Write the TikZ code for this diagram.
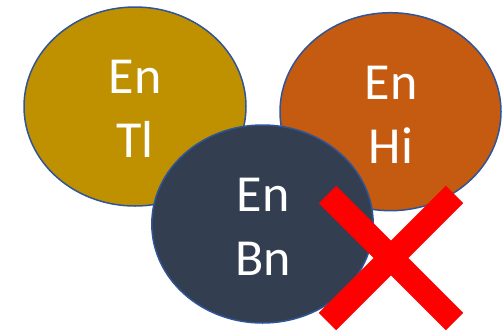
\documentclass[tikz,border=0pt]{standalone}
\usepackage{fontspec}
\setmainfont{Carlito}
\definecolor{goldc}{HTML}{BF9000}
\definecolor{orangec}{HTML}{C55A11}
\definecolor{navyc}{HTML}{333F50}
\definecolor{edgec}{HTML}{2F5597}
\definecolor{redx}{HTML}{FF0000}
\begin{document}
\begin{tikzpicture}[x=1pt,y=-1pt,
  blob/.style={draw=edgec,line width=1.5pt},
  lbl/.style={text=white,font=\fontsize{52}{63}\selectfont,anchor=base,inner sep=0pt},
  xbar/.style={draw=redx,line width=24.5pt,line cap=butt}]
\useasboundingbox (0,0) rectangle (502,330);
\fill[goldc,blob] (135,106.5) ellipse [x radius=111, y radius=99.5];
\fill[orangec,blob] (390.5,111.7) ellipse [x radius=110.5, y radius=99];
\fill[navyc,blob] (262.5,224) ellipse [x radius=110.7, y radius=99];
\node[lbl] (t1) at (135,93) {En};
\node[lbl] (t2) at (135,157) {Tl};
\node[lbl] (h1) at (391,99) {En};
\node[lbl] (h2) at (391,163) {Hi};
\node[lbl] (b1) at (263,211) {En};
\node[lbl] (b2) at (263,275) {Bn};
\coordinate (x1) at (327.5,194.5);
\coordinate (x2) at (454.5,321.5);
\coordinate (x3) at (454.5,194.5);
\coordinate (x4) at (327.5,321.5);
\draw[xbar] (x1) -- (x2);
\draw[xbar] (x3) -- (x4);
\end{tikzpicture}
\end{document}
